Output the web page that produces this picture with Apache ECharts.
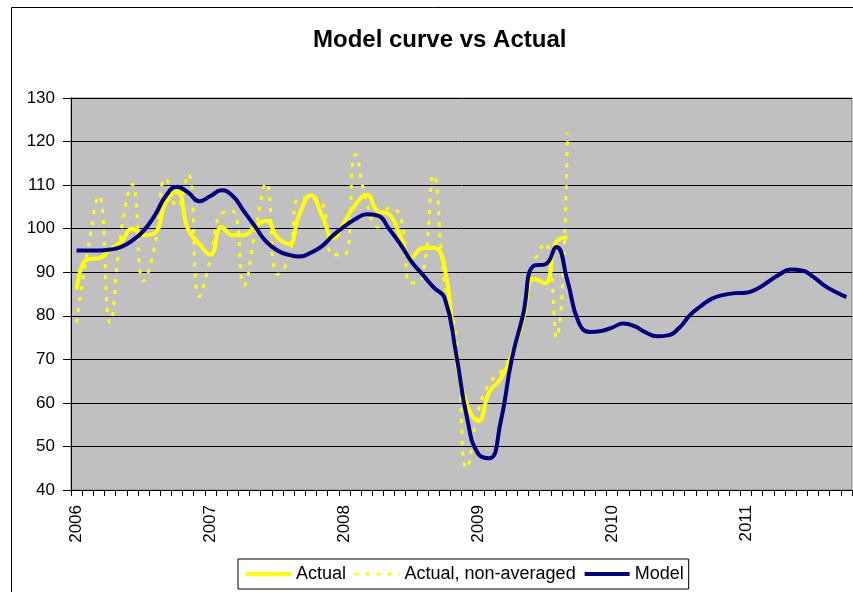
<!DOCTYPE html>
<html>
<head>
<meta charset="utf-8">
<script src="https://cdn.jsdelivr.net/npm/echarts@6/dist/echarts.min.js"></script>
<style>
html,body{margin:0;padding:0;background:#fff;}
#chart{width:853px;height:592px;}
</style>
</head>
<body>
<div id="chart"></div>
<script>
// Monthly categories, Jan 2006 .. Oct 2011
var months = [
 '2006-01','2006-02','2006-03','2006-04','2006-05','2006-06','2006-07','2006-08','2006-09','2006-10','2006-11','2006-12',
 '2007-01','2007-02','2007-03','2007-04','2007-05','2007-06','2007-07','2007-08','2007-09','2007-10','2007-11','2007-12',
 '2008-01','2008-02','2008-03','2008-04','2008-05','2008-06','2008-07','2008-08','2008-09','2008-10','2008-11','2008-12',
 '2009-01','2009-02','2009-03','2009-04','2009-05','2009-06','2009-07','2009-08','2009-09','2009-10','2009-11','2009-12',
 '2010-01','2010-02','2010-03','2010-04','2010-05','2010-06','2010-07','2010-08','2010-09','2010-10','2010-11','2010-12',
 '2011-01','2011-02','2011-03','2011-04','2011-05','2011-06','2011-07','2011-08','2011-09','2011-10'
];

var actual = [
 86, 93, 93.2, 95.3, 97, 100, 98.5, 99, 106, 108.5, 99.8, 96.5,
 94, 100.4, 98.5, 98.5, 100.5, 101.8, 98, 96.5, 103.5, 107.7, 103, 97.8,
 101.5, 105.5, 107.8, 104, 103.3, 98.5, 93.3, 95.5, 95.6, 91, 70.8, 59.7,
 55.8, 62.5, 65.5, 71, 79, 88.5, 87.5, 97, 98
];

var actualRaw = [
 78.4, 95, 107.5, 78.5, 99.5, 110.2, 88, 95.8, 111.5, 105, 112.5, 84.5,
 93, 103.5, 104, 87, 99, 110.5, 89.5, 93, 107, 107, 106, 94,
 94, 117, 106, 100.4, 104.7, 103, 87.5, 89, 112.3, 87, 75.5, 45,
 58, 64.5, 67, 71.5, 79.5, 92, 96.7, 75, 122
];

var model = [
 95, 95, 95, 95.2, 95.8, 97.3, 99.5, 103, 107.5, 109.6, 108.3, 106.3,
 107.5, 108.8, 107.5, 104, 100.5, 97, 95, 94, 93.6, 94.5, 96, 98.5,
 100.5, 102.2, 103.3, 103, 100, 96.5, 92.5, 89.5, 86.5, 84, 71.5, 56.5,
 48.3, 47.3, 55.5, 70, 80, 91.5, 91.8, 95.8, 88, 78.5, 76.3, 76.5,
 77.3, 78.2, 77.6, 76.2, 75.3, 75.5, 77.2, 80.2, 82.3, 84, 84.8, 85.2,
 85.3, 86.2, 87.8, 89.5, 90.6, 90.4, 89, 87, 85.5, 84.3
];

var yMin = 40, yMax = 130, yStep = 10;

var FONT = '"Liberation Sans", Arial, sans-serif';
var chart = echarts.init(document.getElementById('chart'), null, {renderer: 'canvas'});

chart.setOption({
  backgroundColor: '#fff',
  animation: false,
  title: {
    text: 'Model curve vs Actual',
    left: 313,
    top: 28,
    padding: 0,
    textStyle: {fontFamily: FONT, fontSize: 24, fontWeight: 'bold', color: '#000'}
  },
  graphic: [{
    type: 'rect',
    silent: true,
    shape: {x: 11.5, y: 7.5, width: 1000, height: 1000},
    style: {fill: 'none', stroke: '#000', lineWidth: 1},
    z: -1
  }],
  legend: {
    left: 238,
    top: 559,
    orient: 'horizontal',
    padding: [6, 5, 6, 6],
    itemGap: 7,
    itemWidth: 45,
    itemHeight: 16,
    backgroundColor: '#fff',
    borderColor: '#000',
    borderWidth: 1,
    borderRadius: 0,
    itemStyle: {opacity: 0},
    textStyle: {fontFamily: FONT, fontSize: 18, color: '#000'},
    data: [
      {name: 'Actual', lineStyle: {color: '#FFFF00', width: 4, type: 'solid'}, itemStyle: {opacity: 0}},
      {name: 'Actual, non-averaged', lineStyle: {color: '#FFFF00', width: 3, type: [4, 7]}, itemStyle: {opacity: 0}},
      {name: 'Model', lineStyle: {color: '#000080', width: 4, type: 'solid'}, itemStyle: {opacity: 0}}
    ]
  },
  grid: {
    left: 71,
    right: 1,
    top: 98,
    bottom: 102,
    show: true,
    backgroundColor: '#C0C0C0',
    borderColor: '#808080',
    borderWidth: 1,
    containLabel: false,
    outerBoundsMode: 'none'
  },
  xAxis: {
    type: 'category',
    data: months,
    boundaryGap: true,
    axisLine: {show: true, lineStyle: {color: '#000', width: 1}},
    axisTick: {show: true, interval: 0, length: 6, lineStyle: {color: '#000'}},
    axisLabel: {
      interval: 11,
      rotate: 90,
      margin: 15,
      fontFamily: FONT,
      fontSize: 17,
      color: '#000',
      formatter: function (v) { return v.slice(0, 4); }
    },
    splitLine: {show: false}
  },
  yAxis: {
    type: 'value',
    min: yMin,
    max: yMax,
    interval: yStep,
    axisLine: {show: true, lineStyle: {color: '#000', width: 1}},
    axisTick: {show: true, length: 8, lineStyle: {color: '#000'}},
    axisLabel: {margin: 16, fontFamily: FONT, fontSize: 17, color: '#000'},
    splitLine: {show: true, lineStyle: {color: '#000', width: 1}}
  },
  series: [
    {
      name: 'Actual',
      type: 'line',
      data: actual,
      smooth: 0.5,
      symbol: 'none',
      lineStyle: {color: '#FFFF00', width: 4},
      itemStyle: {color: '#FFFF00'},
      z: 2
    },
    {
      name: 'Actual, non-averaged',
      type: 'line',
      data: actualRaw,
      smooth: 0.5,
      symbol: 'none',
      lineStyle: {color: '#FFFF00', width: 3, type: [4, 7]},
      itemStyle: {color: '#FFFF00'},
      z: 3
    },
    {
      name: 'Model',
      type: 'line',
      data: model,
      smooth: 0.5,
      symbol: 'none',
      lineStyle: {color: '#000080', width: 4},
      itemStyle: {color: '#000080'},
      z: 4
    }
  ]
});
</script>
</body>
</html>
